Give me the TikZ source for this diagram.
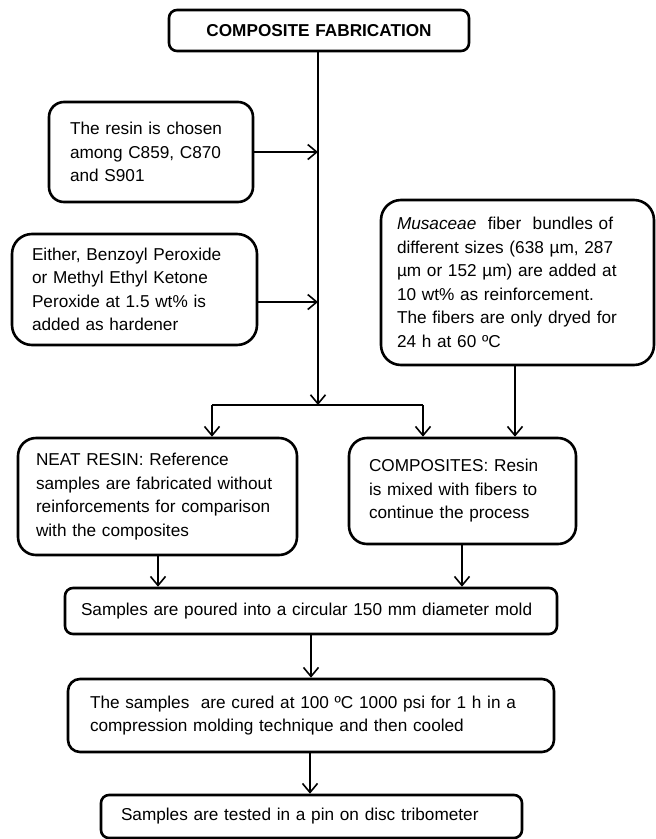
\documentclass[tikz,border=0pt]{standalone}
\usepackage{fontspec}
\setmainfont{Liberation Sans}
\usetikzlibrary{arrows.meta}
\begin{document}
\begin{tikzpicture}[x=1pt,y=-1pt,
  box/.style={draw, line width=2.6pt, align=left, inner ysep=0pt,
    font=\fontsize{17.2}{23.5}\selectfont},
  conn/.style={line width=1.8pt},
  arr/.style={conn, -{Straight Barb[length=9pt,width=15pt,line width=1.6pt]}}]
\useasboundingbox (0,0) rectangle (656,839);
% boxes
\node[box, rounded corners=8pt, align=center, inner xsep=0pt, text width=300pt, minimum height=41pt,
  font=\fontsize{17.2}{23.5}\selectfont\bfseries] (top) at (319,30.5) {COMPOSITE FABRICATION};
\node[box, rounded corners=15pt, inner xsep=21pt, text width=162pt, minimum height=100pt] (resin) at (151,152)
  {The resin is chosen\\among C859, C870\\and S901};
\node[box, rounded corners=20pt, inner xsep=20pt, text width=205pt, minimum height=111pt] (hard) at (134.5,289.5)
  {Either, Benzoyl Peroxide\\or Methyl Ethyl Ketone\\Peroxide at 1.5 wt\% is\\added as hardener};
\node[box, rounded corners=20pt, inner xsep=16pt, text width=241pt, minimum height=165pt] (musa) at (517.5,282.5)
  {\textit{Musaceae}\ \ fiber\ \ bundles of\\different sizes (638 µm, 287\\µm or 152 µm) are added at\\10 wt\% as reinforcement.\\The fibers are only dryed for\\24 h at 60 ºC};
\node[box, rounded corners=18pt, inner xsep=18pt, text width=243pt, minimum height=117pt] (neat) at (157.5,496.5)
  {NEAT RESIN: Reference\\samples are fabricated without\\reinforcements for comparison\\with the composites};
\node[box, rounded corners=18pt, inner xsep=20pt, text width=187pt, minimum height=106pt] (comp) at (462.5,491)
  {COMPOSITES: Resin\\is mixed with fibers to\\continue the process};
\node[box, rounded corners=8pt, inner xsep=16pt, text width=460pt, minimum height=46pt] (pour) at (311,611)
  {Samples are poured into a circular 150 mm diameter mold};
\node[box, rounded corners=12pt, inner xsep=22pt, text width=442pt, minimum height=73pt] (cure) at (311,715.5)
  {The samples\ \ are cured at 100 ºC 1000 psi for 1 h in a\\compression molding technique and then cooled};
\node[box, rounded corners=8pt, inner xsep=20pt, text width=381pt, minimum height=43pt] (test) at (311.5,816.5)
  {Samples are tested in a pin on disc tribometer};
% connectors
\coordinate (split) at (318,405);
\coordinate (hl) at (212,405);
\coordinate (hr) at (423,405);
\draw[arr] (top.south -| split) -- (split);
\draw[arr] (resin.east) -- (resin.east -| split);
\draw[arr] (hard.east |- 0,302) -- (split |- 0,302);
\draw[conn] (hl) -- (hr);
\draw[arr] (hl) -- (hl |- neat.north);
\draw[arr] (hr) -- (hr |- comp.north);
\draw[arr] (musa.south -| 515,0) -- (515,0 |- comp.north);
\draw[arr] (neat.south -| 158,0) -- (158,0 |- pour.north);
\draw[arr] (comp.south -| 462,0) -- (462,0 |- pour.north);
\draw[arr] (pour.south -| 311,0) -- (311,0 |- cure.north);
\draw[arr] (cure.south -| 310,0) -- (310,0 |- test.north);
\end{tikzpicture}
\end{document}
